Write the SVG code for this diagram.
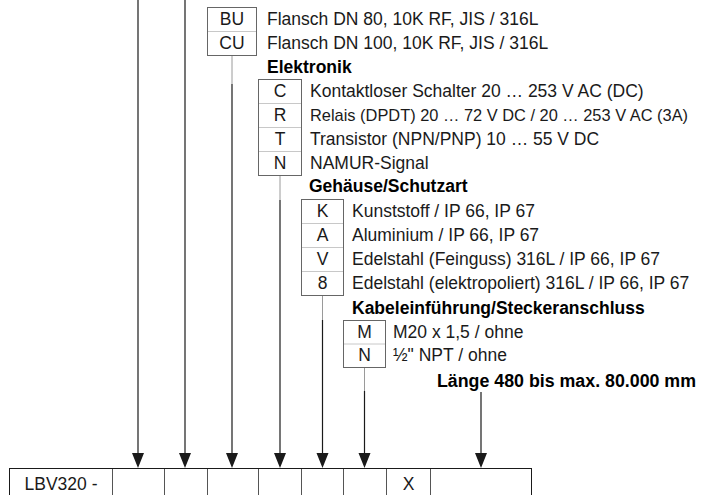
<svg xmlns="http://www.w3.org/2000/svg" width="706" height="495" viewBox="0 0 706 495">
<defs>
<style>
.t{font-family:"Liberation Sans",Arial,sans-serif;font-size:17.5px;fill:#1a1a1a}
.c{font-family:"Liberation Sans",Arial,sans-serif;font-size:17.5px;fill:#1a1a1a;text-anchor:middle}
.h{font-family:"Liberation Sans",Arial,sans-serif;font-size:17.5px;font-weight:bold;fill:#000}
.box{fill:none;stroke:#666;stroke-width:1}
.div{stroke:#c8c8c8;stroke-width:1}
.stem{stroke:#9a9a9a;stroke-width:1;fill:none}
.arr{stroke:#1a1a1a;stroke-width:1.2;fill:none}
.head{fill:#1a1a1a}
.cell{stroke:#555;stroke-width:1}
</style>
</defs>

<g id="connectors">
<line class="arr" x1="138" y1="0" x2="138" y2="453"/>
<line class="arr" x1="185" y1="0" x2="185" y2="453"/>
<line class="stem" x1="232" y1="55" x2="232" y2="84"/>
<line class="arr" x1="232" y1="84" x2="232" y2="453"/>
<line class="stem" x1="280" y1="175" x2="280" y2="200"/>
<line class="arr" x1="280" y1="200" x2="280" y2="453"/>
<line class="stem" x1="322.5" y1="295" x2="322.5" y2="320"/>
<line class="arr" x1="322.5" y1="320" x2="322.5" y2="453"/>
<line class="stem" x1="364.5" y1="368" x2="364.5" y2="391"/>
<line class="arr" x1="364.5" y1="391" x2="364.5" y2="453"/>
<line class="arr" x1="481" y1="392" x2="481" y2="453"/>
<path class="head" d="M132,453 L144,453 L138,468 Z M179,453 L191,453 L185,468 Z M226,453 L238,453 L232,468 Z M274,453 L286,453 L280,468 Z M316.5,453 L328.5,453 L322.5,468 Z M358.5,453 L370.5,453 L364.5,468 Z M475,453 L487,453 L481,468 Z"/>
</g>

<g id="tbl-flansch">
<rect class="box" x="207.5" y="7.5" width="49" height="48"/>
<line class="div" x1="208" y1="31.5" x2="256" y2="31.5"/>
<text class="c" x="232" y="25">BU</text>
<text class="c" x="232" y="49">CU</text>
<text class="t" x="267" y="25">Flansch DN 80, 10K RF, JIS / 316L</text>
<text class="t" x="267" y="49">Flansch DN 100, 10K RF, JIS / 316L</text>
</g>

<g id="tbl-elektronik">
<text class="h" x="267" y="73">Elektronik</text>
<rect class="box" x="258.5" y="79.5" width="43" height="96"/>
<line class="div" x1="259" y1="103.5" x2="301" y2="103.5"/>
<line class="div" x1="259" y1="127.5" x2="301" y2="127.5"/>
<line class="div" x1="259" y1="151.5" x2="301" y2="151.5"/>
<text class="c" x="280" y="97">C</text>
<text class="c" x="280" y="121">R</text>
<text class="c" x="280" y="145">T</text>
<text class="c" x="280" y="169">N</text>
<text class="t" x="310" y="97">Kontaktloser Schalter 20 … 253 V AC (DC)</text>
<text class="t" x="310" y="121" style="font-size:16.4px">Relais (DPDT) 20 … 72 V DC / 20 … 253 V AC (3A)</text>
<text class="t" x="310" y="145">Transistor (NPN/PNP) 10 … 55 V DC</text>
<text class="t" x="310" y="169">NAMUR-Signal</text>
</g>

<g id="tbl-gehaeuse">
<text class="h" x="309" y="192">Gehäuse/Schutzart</text>
<rect class="box" x="301.5" y="199.5" width="42" height="96"/>
<line class="div" x1="302" y1="223.5" x2="343" y2="223.5"/>
<line class="div" x1="302" y1="247.5" x2="343" y2="247.5"/>
<line class="div" x1="302" y1="271.5" x2="343" y2="271.5"/>
<text class="c" x="322.5" y="217">K</text>
<text class="c" x="322.5" y="241">A</text>
<text class="c" x="322.5" y="265">V</text>
<text class="c" x="322.5" y="289">8</text>
<text class="t" x="352" y="217">Kunststoff / IP 66, IP 67</text>
<text class="t" x="352" y="241">Aluminium / IP 66, IP 67</text>
<text class="t" x="352" y="265">Edelstahl (Feinguss) 316L / IP 66, IP 67</text>
<text class="t" x="352" y="289">Edelstahl (elektropoliert) 316L / IP 66, IP 67</text>
</g>

<g id="tbl-kabel">
<text class="h" x="352" y="314">Kabeleinführung/Steckeranschluss</text>
<rect class="box" x="343.5" y="320.5" width="42" height="47"/>
<line class="div" x1="344" y1="344" x2="385" y2="344"/>
<text class="c" x="364.5" y="338">M</text>
<text class="c" x="364.5" y="361">N</text>
<text class="t" x="393" y="338">M20 x 1,5 / ohne</text>
<text class="t" x="393" y="361">½" NPT / ohne</text>
</g>

<g id="label-laenge">
<text class="h" x="437" y="387" textLength="259" lengthAdjust="spacingAndGlyphs">Länge 480 bis max. 80.000 mm</text>
</g>

<g id="code-row">
<rect x="9.5" y="468.5" width="522" height="40" fill="none" stroke="#1a1a1a" stroke-width="1"/>
<line class="cell" x1="112.5" y1="469" x2="112.5" y2="495"/>
<line class="cell" x1="164.5" y1="469" x2="164.5" y2="495"/>
<line class="cell" x1="207.5" y1="469" x2="207.5" y2="495"/>
<line class="cell" x1="258.5" y1="469" x2="258.5" y2="495"/>
<line class="cell" x1="301.5" y1="469" x2="301.5" y2="495"/>
<line class="cell" x1="343.5" y1="469" x2="343.5" y2="495"/>
<line class="cell" x1="386.5" y1="469" x2="386.5" y2="495"/>
<line class="cell" x1="430.5" y1="469" x2="430.5" y2="495"/>
<text class="c" x="61" y="490">LBV320 -</text>
<text class="c" x="408.5" y="490">X</text>
</g>
</svg>
